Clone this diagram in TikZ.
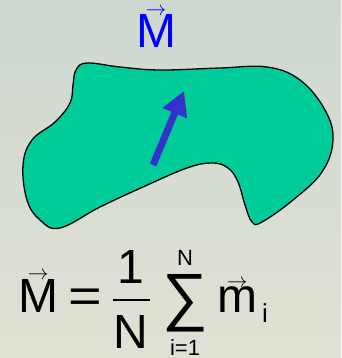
\documentclass[tikz,border=0pt]{standalone}
\usepackage{fontspec}
\setmainfont{Liberation Sans}
\usetikzlibrary{arrows.meta}

\definecolor{bodygreen}{RGB}{0,204,153}
\definecolor{momblue}{RGB}{51,51,204}
\definecolor{bgtop}{RGB}{206,216,208}
\definecolor{bgbot}{RGB}{224,225,212}

% small arrow set over a letter, baseline kept on the letter
\newcommand{\vecarr}[1]{\leavevmode\vbox{\offinterlineskip\halign{\hfil##\hfil\cr
  {\fontsize{20}{20}\selectfont$\rightarrow$}\cr\noalign{\kern-1pt}#1\cr}}}

\begin{document}
\begin{tikzpicture}[x=1pt, y=-1pt,
big/.style = {font=\fontsize{48}{52}\selectfont, inner sep=0pt},
small/.style = {font=\fontsize{22}{24}\selectfont, inner sep=0pt},
body/.style = {draw=black, line width=1.3pt, fill=bodygreen},
moment/.style = {draw=momblue, line width=7pt, -{Triangle[width=25pt, length=24pt]}}]
%
\shade[top color=bgtop, bottom color=bgbot] (0,0) rectangle (341,358);
\useasboundingbox (0,0) rectangle (341,358);

% the body
\draw[body] plot[smooth cycle, tension=0.65] coordinates {
  (87,63) (120,67) (160,70) (220,68) (267,67) (300,80) (325,110) (333,140)
  (322,172) (293,200) (262,222) (252,222) (245,205) (238,182) (228,168)
  (212,163) (187,168) (143,187) (100,207) (60,228) (40,220) (27,200)
  (23,165) (32,140) (55,122) (70,103) (73,85) (76,70)};

\coordinate (tail) at (153,165);
\coordinate (tip) at (184,91);
\draw[moment] (tail) -- (tip);

\node[big, anchor=base, text=blue] (label) at (156,48) {\vecarr{M}};

% the formula
\node[big, anchor=base west] (lhs) at (18,312) {\vecarr{M}};
\node[big, anchor=base, xscale=1.2] (eq) at (85,312) {=};
\node[big, anchor=base] (num) at (131,283) {1};
\node[big, anchor=base] (den) at (131,348) {N};
\coordinate (barl) at (113,300);
\coordinate (barr) at (150,300);
\draw[line width=1.3pt] (barl) -- (barr);
\node[inner sep=0pt, font=\fontsize{64}{70}\selectfont, anchor=base] (sum) at (185,318) {∑};
\node[small, anchor=base] (upper) at (185,265) {N};
\node[small, anchor=base] (lower) at (185,355) {i=1};
\node[big, anchor=base west] (rhs) at (217,312) {\vecarr{m}};
\node[small, font=\fontsize{26}{28}\selectfont, anchor=base west] (sub) at (262,322) {i};
\end{tikzpicture}
\end{document}
